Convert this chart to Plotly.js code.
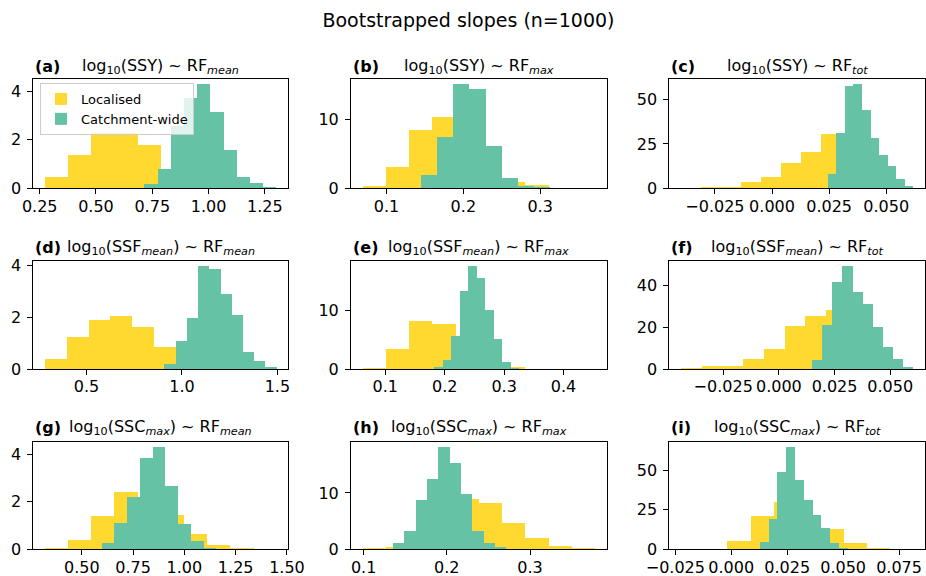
<!DOCTYPE html>
<html><head><meta charset="utf-8">
<script src="https://cdn.plot.ly/plotly-3.0.1.min.js"></script>
<style>html,body{margin:0;padding:0;background:#fff}#chart{width:926px;height:576px}</style>
</head><body><div id="chart"></div>
<script>
// ---------------- data ----------------
const seriesNames = ['Localised', 'Catchment-wide'];
const figTitle = 'Bootstrapped slopes (n=1000)';
const panelLabels = ['(a)', '(b)', '(c)', '(d)', '(e)', '(f)', '(g)', '(h)', '(i)'];
const panelTitles = [
  'log<sub>10</sub>(SSY) ~ RF<sub><i>mean</i></sub>',
  'log<sub>10</sub>(SSY) ~ RF<sub><i>max</i></sub>',
  'log<sub>10</sub>(SSY) ~ RF<sub><i>tot</i></sub>',
  'log<sub>10</sub>(SSF<sub><i>mean</i></sub>) ~ RF<sub><i>mean</i></sub>',
  'log<sub>10</sub>(SSF<sub><i>mean</i></sub>) ~ RF<sub><i>max</i></sub>',
  'log<sub>10</sub>(SSF<sub><i>mean</i></sub>) ~ RF<sub><i>tot</i></sub>',
  'log<sub>10</sub>(SSC<sub><i>max</i></sub>) ~ RF<sub><i>mean</i></sub>',
  'log<sub>10</sub>(SSC<sub><i>max</i></sub>) ~ RF<sub><i>max</i></sub>',
  'log<sub>10</sub>(SSC<sub><i>max</i></sub>) ~ RF<sub><i>tot</i></sub>'
];

// Each histogram: [min, max] of its 10 equal-width bins, and the density of each bin
const locA_range = [0.273, 1.303];
const locA = [0.48, 1.38, 2.30, 2.30, 1.79, 0.75, 0.40, 0.20, 0.05, 0.02];
const catA_range = [0.715, 1.302];
const catA = [0.18, 0.80, 2.55, 3.74, 4.28, 3.14, 1.59, 0.46, 0.21, 0.07];

const locB_range = [0.0689, 0.3715];
const locB = [0.3, 3.07, 8.5, 10.4, 6.3, 2.9, 0.93, 0.49, 0.05, 0.05];
const catB_range = [0.1237, 0.3342];
const catB = [0.1, 1.9, 7.5, 15.1, 14.5, 6.2, 1.56, 0.4, 0.17, 0.07];

const locC_range = [-0.0399, 0.0477];
const locC = [0.4, 0.75, 0.9, 3.6, 6.4, 14.0, 20.4, 30.6, 25.0, 12.0];
const catC_range = [0.0244, 0.0619];
const catC = [8.1, 31.2, 57.5, 58.5, 44.3, 28.3, 18.5, 12.6, 5.3, 1.5];

const locD_range = [0.282, 1.427];
const locD = [0.38, 1.22, 1.88, 2.04, 1.60, 0.85, 0.5, 0.2, 0.05, 0.01];
const catD_range = [0.9077, 1.4965];
const catD = [0.2, 1.08, 1.95, 3.97, 3.85, 2.88, 2.06, 0.64, 0.32, 0.09];

const locE_range = [0.062, 0.453];
const locE = [0.23, 3.35, 8.18, 7.73, 4.0, 1.5, 0.4, 0.03, 0.02, 0.02];
const catE_range = [0.1821, 0.3251];
const catE = [0.3, 1.5, 5.7, 13.3, 17.6, 15.5, 10.0, 5.1, 1.25, 0.15];

const locF_range = [-0.044, 0.0491];
const locF = [0.6, 1.4, 1.4, 4.6, 9.5, 20.5, 25.1, 28.1, 11.0, 5.2];
const catF_range = [0.01486, 0.0604];
const catF = [4.3, 20.8, 41.3, 49.2, 36.8, 31.0, 20.0, 10.5, 4.6, 1.1];

const locG_range = [0.320, 1.450];
const locG = [0.07, 0.39, 1.41, 2.41, 2.15, 1.45, 0.64, 0.18, 0.07, 0.01];
const catG_range = [0.597, 1.218];
const catG = [0.25, 1.09, 2.2, 3.84, 4.32, 2.66, 1.06, 0.35, 0.06, 0.03];

const locH_range = [0.0988, 0.3782];
const locH = [0.3, 0.4, 3.0, 7.2, 9.0, 8.2, 4.7, 2.05, 0.64, 0.3];
const catH_range = [0.1352, 0.2716];
const catH = [1.05, 3.3, 8.8, 12.4, 18.2, 15.4, 9.8, 3.3, 1.05, 0.45];

const locI_range = [-0.0225, 0.0814];
const locI = [0.1, 0, 5.25, 21.4, 30.0, 21.0, 12.6, 4.2, 1.0, 0.1];
const catI_range = [0.0128, 0.0521];
const catI = [4.6, 19.5, 49.0, 65.0, 44.0, 31.0, 22.0, 13.2, 4.2, 1.0];

// x tick step / format and y tick step per panel
const xTickStep = [0.25, 0.1, 0.025, 0.5, 0.1, 0.025, 0.25, 0.1, 0.025];
const xTickFmt = ['.2f', '.1f', '.3f', '.1f', '.1f', '.3f', '.2f', '.1f', '.3f'];
const yTickStep = [2, 10, 25, 2, 10, 20, 2, 10, 25];

// ---------------- drawing ----------------
const panels = [
  [locA_range, locA, catA_range, catA], [locB_range, locB, catB_range, catB], [locC_range, locC, catC_range, catC],
  [locD_range, locD, catD_range, catD], [locE_range, locE, catE_range, catE], [locF_range, locF, catF_range, catF],
  [locG_range, locG, catG_range, catG], [locH_range, locH, catH_range, catH], [locI_range, locI, catI_range, catI]
];
const colors = ['#FFD92F', '#66C2A5'];
const W = 926, H = 576;
const colPx = [[33.3, 288.3], [351, 606.7], [669.3, 925]];
const rowPx = [[79.3, 188.3], [260.7, 369], [441.7, 549.3]];
const titleYPx = [66, 247.8, 427.5];
const font = 'DejaVu Sans, Verdana, sans-serif';

function hist(range, h, color, name, xa, ya, showlegend) {
  const w = (range[1] - range[0]) / h.length;
  return {
    type: 'bar', x: h.map((_, i) => range[0] + (i + 0.5) * w), y: h, width: w,
    marker: {color: color, line: {width: 0}}, name: name,
    showlegend: showlegend, xaxis: xa, yaxis: ya, hoverinfo: 'skip'
  };
}

const traces = [];
const layout = {
  width: W, height: H, margin: {l: 0, r: 0, t: 0, b: 0},
  paper_bgcolor: '#fff', plot_bgcolor: '#fff',
  barmode: 'overlay', bargap: 0,
  font: {family: font, size: 16, color: '#000'},
  title: {text: figTitle, font: {family: font, size: 19, color: '#000'},
          x: 468.5 / W, xanchor: 'center', y: 1 - 20 / H, yanchor: 'middle'},
  legend: {x: 40 / W, y: 1 - 83 / H, xanchor: 'left', yanchor: 'top', tracegroupgap: 0,
           bgcolor: 'rgba(255,255,255,0.8)', bordercolor: '#cccccc', borderwidth: 1,
           font: {family: font, size: 13, color: '#000'}},
  annotations: []
};

panels.forEach((p, k) => {
  const r = Math.floor(k / 3), c = k % 3;
  const id = k === 0 ? '' : String(k + 1);
  const xa = 'x' + id, ya = 'y' + id;
  traces.push(hist(p[0], p[1], colors[0], seriesNames[0], xa, ya, k === 0));
  traces.push(hist(p[2], p[3], colors[1], seriesNames[1], xa, ya, k === 0));
  const lo = Math.min(p[0][0], p[2][0]), hi = Math.max(p[0][1], p[2][1]);
  const R = hi - lo;
  const ymax = Math.max(...p[1], ...p[3]) * 1.05;
  const common = {
    showgrid: false, zeroline: false, showline: true, mirror: true,
    linecolor: '#000', linewidth: 1, ticks: 'outside', ticklen: 5, tickwidth: 1,
    tickcolor: '#000', tickfont: {family: font, size: 16, color: '#000'}
  };
  layout['xaxis' + id] = Object.assign({}, common, {
    domain: [colPx[c][0] / W, colPx[c][1] / W], anchor: ya, ticklabelstandoff: -2,
    range: [lo - 0.05 * R, hi + 0.05 * R], tick0: 0, dtick: xTickStep[k], tickformat: xTickFmt[k]
  });
  layout['yaxis' + id] = Object.assign({}, common, {
    domain: [1 - rowPx[r][1] / H, 1 - rowPx[r][0] / H], anchor: xa, ticklabelstandoff: 3,
    range: [0, ymax], tick0: 0, dtick: yTickStep[k], tickformat: 'd'
  });
  layout.annotations.push({
    xref: 'paper', yref: 'paper', x: colPx[c][0] / W, y: 1 - titleYPx[r] / H,
    xanchor: 'left', yanchor: 'middle', showarrow: false,
    text: '<b>' + panelLabels[k] + '</b>', font: {family: font, size: 16, color: '#000'}
  });
  layout.annotations.push({
    xref: 'paper', yref: 'paper', x: (colPx[c][0] + colPx[c][1]) / 2 / W, y: 1 - titleYPx[r] / H,
    xanchor: 'center', yanchor: 'middle', showarrow: false,
    text: panelTitles[k], font: {family: font, size: 16, color: '#000'}
  });
});

Plotly.newPlot('chart', traces, layout, {staticPlot: true, displayModeBar: false});
</script></body></html>
